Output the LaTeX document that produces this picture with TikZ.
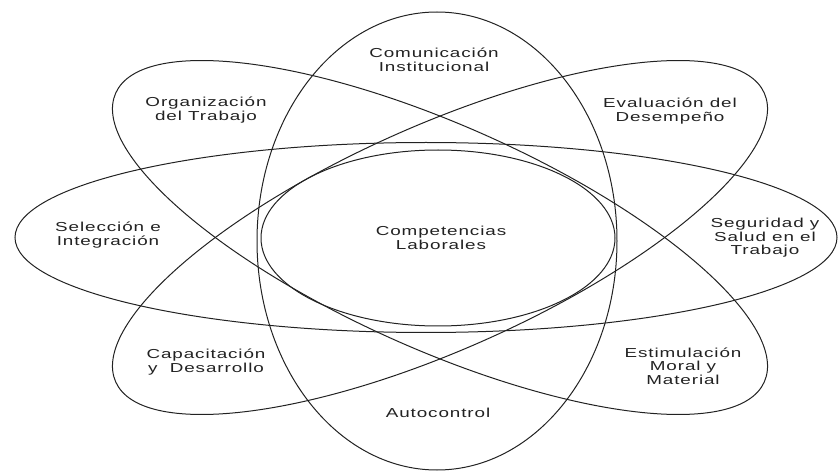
\documentclass[tikz,border=0pt]{standalone}
\usepackage{fontspec}
\setmainfont{Liberation Sans}[FakeStretch=1.45,LetterSpace=7]
\definecolor{ink}{HTML}{222222}
\tikzset{
  orbit/.style={draw=ink,line width=1pt},
  lbl/.style={align=center,text=ink,font=\fontsize{13}{13.5}\selectfont,inner sep=0pt}
}
\begin{document}
\begin{tikzpicture}[x=1pt,y=1pt]
\useasboundingbox (0,0) rectangle (839,472);
% ellipses
\draw[orbit] (437,231) ellipse [x radius=180,y radius=229];
\draw[orbit] (426,234.5) ellipse [x radius=411,y radius=95];
\draw[orbit] (438,234) ellipse [x radius=177,y radius=88];
\draw[orbit,rotate around={-24:(440,234.5)}] (440,234.5) ellipse [x radius=355,y radius=112];
\draw[orbit,rotate around={24:(440,234.5)}] (440,234.5) ellipse [x radius=355,y radius=112];
% labels
\node[lbl] (com) at (434,412) {Comunicación\\Institucional};
\node[lbl] (org) at (206,362) {Organización\\del Trabajo};
\node[lbl] (eva) at (670,361) {Evaluación del\\Desempeño};
\node[lbl] (sel) at (108,237) {Selección e\\Integración};
\node[lbl] (cl) at (441,234) {Competencias\\Laborales};
\node[lbl] (seg) at (765,234) {Seguridad y\\Salud en el\\Trabajo};
\node[lbl] (cap) at (206,110) {Capacitación\\y\ \ Desarrollo};
\node[lbl] (est) at (683,106) {Estimulación\\Moral y\\Material};
\node[lbl] (aut) at (438,59) {Autocontrol};
\end{tikzpicture}
\end{document}
